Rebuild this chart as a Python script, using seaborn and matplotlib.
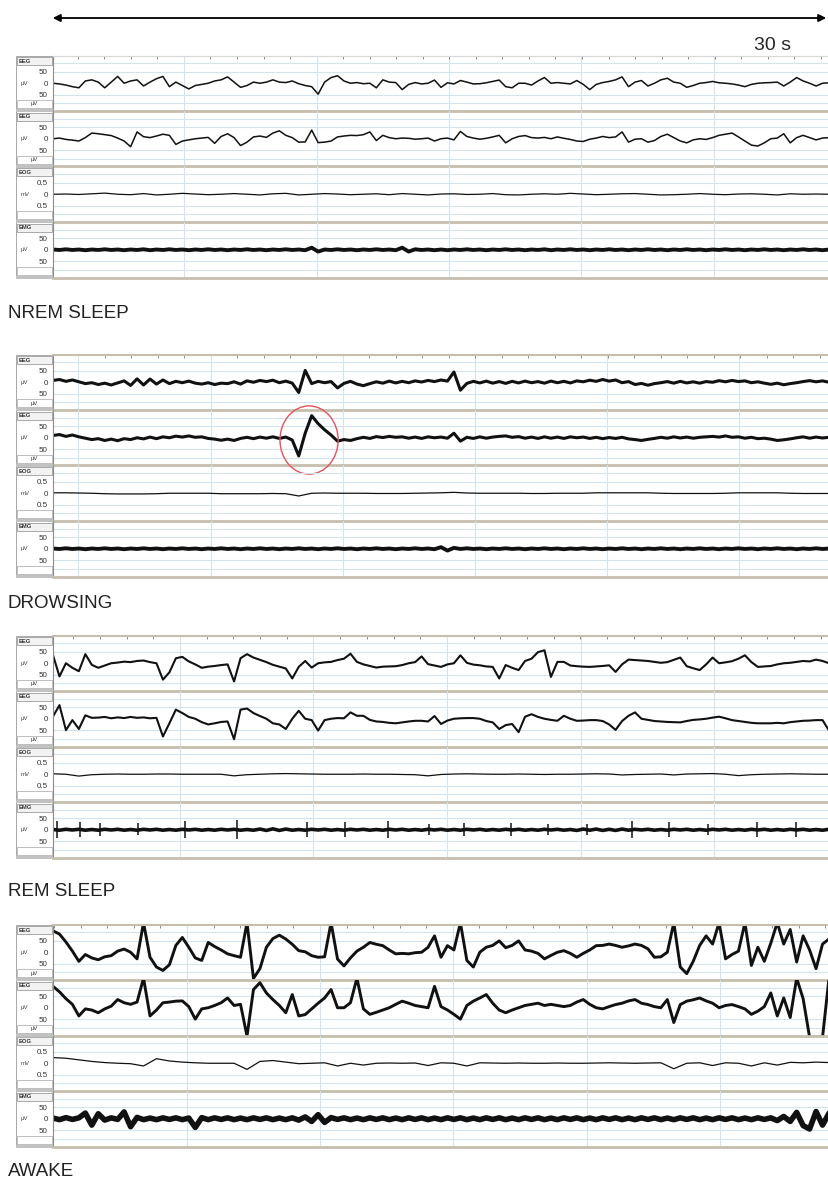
import numpy as np
import matplotlib
matplotlib.use("Agg")
import matplotlib.pyplot as plt
from matplotlib.patches import Rectangle, Ellipse, FancyArrowPatch
from matplotlib.ticker import FixedLocator
import seaborn as sns

sns.set_style("white")
plt.rcParams["font.family"] = ["Liberation Sans", "DejaVu Sans"]

# Traces, 30 s per panel
# EEG / EMG in uV, EOG in mV

nrem_eeg1 = [0, -3, -8, -15, -20, 10, 15, 5, -20, 5,
             30, 0, 10, 15, -12, 5, 20, 30, -15, 5,
             -10, -25, -10, -5, 0, 10, 15, 28, 5, -18,
             -10, 5, 0, 5, 15, 5, 3, 10, -2, -10,
             -15, -48, 5, 25, 33, 10, 0, 3, -2, 0,
             -20, 15, 5, 3, -28, -5, 3, -3, 0, 14,
             -18, 2, -3, 12, 5, -3, -2, 2, 8, 14,
             -15, -20, 0, 0, -8, 10, 25, 0, 3, 0,
             -3, 12, -5, -28, -5, 3, 8, 15, 28, -15,
             5, 12, -12, 0, 15, 22, 5, 0, -18, -10,
             0, 3, 8, 2, 0, -3, -8, -15, -5, 0,
             2, 3, 5, -12, 5, 25, 10, 0, -12, 0,
             2]
nrem_eeg2 = [0, 3, -3, -6, -10, 5, 25, 22, 18, 14,
             3, -10, -35, 30, 9, 5, 12, 20, 15, -25,
             -10, -5, 0, 3, 6, -20, 10, 22, 5, -30,
             -15, 8, 12, 6, 25, 35, 15, 5, -15, -14,
             38, -17, -15, -10, 8, 12, 15, 14, 18, 30,
             -8, 15, 5, 0, 3, 2, -2, 0, 3, -10,
             0, 3, -5, 32, 10, 3, -2, 2, 8, 15,
             -18, 0, 10, 14, 5, 3, 6, 0, 8, 2,
             -3, -10, -12, -2, 3, 10, 5, 8, 30, -15,
             -2, 0, -15, -8, 10, 20, 5, -10, -18, -5,
             0, -3, 5, 15, 20, 25, 8, -10, -28, -32,
             -18, 0, 3, 22, -18, 5, 15, 5, -5, 3,
             5]
nrem_eog = [0.0, 0.01, -0.01, 0.02, 0.05, 0.0, -0.02, 0.03, -0.03, 0.0,
            0.04, 0.01, -0.02, 0.0, 0.03, 0.0, -0.03, 0.02, 0.04, -0.03,
            0.0, 0.03, 0.01, -0.02, 0.0, 0.02, -0.02, 0.03, 0.0, -0.03,
            0.01, 0.02, -0.01, 0.0, 0.03, -0.02, -0.03, 0.0, 0.02, 0.0,
            0.04, 0.01, -0.02, 0.0, 0.02, 0.03, 0.0, -0.03, -0.02, 0.0,
            0.03, 0.0, -0.02, 0.01, 0.02, 0.0, -0.03, 0.02, 0.0, 0.01,
            0.0]
nrem_emg = [1, -1, 2, -1, 1, -2, 1, -1, 2, -1,
            1, -2, 1, -1, 2, -2, 1, -1, 2, -1,
            1, -2, 1, -1, 2, -1, 1, -2, 1, -1,
            2, -1, 1, -2, 1, -1, 2, -1, 1, -2,
            9, -8, 1, -1, 2, -1, 1, -2, 1, -1,
            2, -1, 1, -2, 9, -8, 2, -1, 1, -2,
            1, -2, 1, -1, 2, -1, 1, -2, 1, -1,
            2, -1, 1, -2, 1, -1, 2, -2, 1, -1,
            2, -1, 1, -2, 1, -1, 2, -1, 1, -2,
            1, -1, 2, -1, 1, -2, 1, -1, 2, -1,
            1, -2, 1, -1, 2, -1, 1, -2, 1, -1,
            2, -1, 1, -2, 1, -1, 2, -1, 1, -2,
            1]

drow_eeg1 = [8, 12, 4, 10, 2, -6, -2, -10, -4, -12,
             -3, 6, -14, 15, -12, 14, -8, 10, -6, 4,
             -2, 5, -4, -8, -2, -10, -4, -6, 2, -8,
             6, 0, 8, 3, 9, -2, 5, -4, -45, 52,
             -6, 4, -2, 3, -25, -5, 4, -8, -15, -6,
             2, -4, 5, -3, 4, -2, 6, 1, 8, 3,
             10, 5, 45, -35, -5, 4, -3, 5, -4, 3,
             -5, 4, -3, 5, -2, 3, -4, 5, -2, 4,
             -3, 6, 2, 9, 4, 12, 5, 10, -2, 3,
             -10, -5, -13, -6, -2, 3, -4, 4, -3, 2,
             -4, 3, 0, 7, 2, 8, 3, 6, -2, 2,
             -4, -9, -4, -11, -6, -2, 3, 7, 2, 6,
             0]
drow_eeg2 = [10, 14, 6, 12, 4, -2, -8, -4, -12, -6,
             -13, -4, -8, 0, -5, 3, -4, 4, 0, 7,
             3, 8, 2, 4, -3, -6, -11, -6, -12, -3,
             2, -4, 3, -2, 4, -3, 3, -10, -80, 20,
             97, 62, 35, 12, -15, -8, -12, -4, 2, -3,
             5, 1, 6, 2, 4, -2, 3, -3, 4, 0,
             3, -2, 20, -15, 2, -3, 4, -2, 3, 6,
             8, 2, 5, -2, 3, -3, 4, -2, 3, -3,
             4, 0, 3, -3, 2, -4, 1, -3, 2, -5,
             -8, -12, -7, -3, 2, -2, 4, -1, 3, -2,
             2, 4, 6, 3, 8, 2, 4, -2, 2, -4,
             -2, -6, -12, -9, -5, 0, 4, -2, 3, -1,
             2]
drow_eog = [0.02, 0.02, 0.01, 0.0, -0.02, -0.03, -0.03, -0.03, -0.02, 0.0,
            0.0, 0.0, 0.0, -0.02, -0.02, -0.02, -0.02, -0.01, -0.02, -0.12,
            0.0, 0.01, 0.0, 0.0, 0.0, -0.01, -0.01, -0.01, 0.0, 0.01,
            0.02, 0.04, 0.01, 0.0, 0.0, 0.0, 0.0, -0.01, -0.01, 0.0,
            0.0, 0.0, 0.02, 0.02, 0.02, 0.02, 0.02, 0.0, -0.01, -0.01,
            -0.01, -0.01, 0.0, 0.02, 0.02, 0.02, 0.02, 0.0, -0.01, -0.01,
            -0.01]
drow_emg = [1, -1, 2, -1, 1, -2, 1, -1, 2, -1,
            1, -2, 1, -1, 2, -1, 1, -2, 1, -1,
            2, -1, 1, -2, 1, -1, 2, -1, 1, -2,
            1, -1, 2, -1, 1, -2, 1, -1, 2, -1,
            1, -2, 1, -1, 2, -1, 1, -2, 1, -1,
            2, -1, 1, -2, 1, -1, 2, -1, 1, -2,
            7, -8, 4, -1, 2, -1, 1, -2, 1, -1,
            2, -1, 1, -2, 1, -1, 2, -1, 1, -2,
            1, -1, 2, -1, 1, -2, 1, -1, 2, -1,
            1, -2, 1, -1, 2, -1, 1, -2, 1, -1,
            2, -1, 1, -2, 1, -1, 2, -1, 1, -2,
            1, -1, 2, -1, 1, -2, 1, -1, 2, -1,
            1]

rem_eeg1 = [36, -58, 0, -20, -35, 40, -7, -20, -10, 0,
            3, 7, 5, 10, 12, 5, 0, -72, -40, 22,
            28, 8, -5, -20, -15, -12, -8, -5, -80, 22,
            40, 25, 15, 5, -7, -15, -23, -67, -16, 10,
            -19, 0, 4, 6, 14, 20, 42, 6, -5, -12,
            -19, -15, -14, -13, -8, 0, 5, 30, -4, -10,
            -16, -5, 0, 35, 2, -6, -9, -14, -16, -67,
            -8, -20, -30, 10, 20, 49, 57, -60, 6, 6,
            -10, -13, -15, -16, -14, -12, -9, -38, -5, 16,
            14, 12, 10, 6, 2, 5, 15, 25, -13, -22,
            -30, -5, 25, 0, 4, 9, 20, 35, 5, -16,
            -14, -12, -5, 0, 2, 6, 10, 8, 16, 10,
            0]
rem_eeg2 = [10, 60, -50, -6, -45, 15, 4, 5, 8, 2,
            6, 3, 8, 4, 6, 2, 4, -78, -20, 40,
            25, 8, 0, -15, -25, -20, -14, -12, -90, 40,
            45, 25, 12, 0, -20, -25, -45, 0, 35, 0,
            -6, -52, -6, 0, 3, 2, 28, 13, 13, -5,
            -12, -14, -18, -20, -16, -12, -9, -9, -12, 12,
            -23, -8, 0, 2, 3, 3, 0, -10, -16, -45,
            -28, -23, -59, 9, 20, 8, 0, -5, -9, 13,
            0, -9, -8, -6, -6, -10, -25, -49, -10, 13,
            28, 0, -5, -10, -12, -14, -15, -16, -10, -5,
            -3, 0, 5, 9, 2, -6, -10, -14, -18, -20,
            -20, -20, -18, -20, -15, -12, -9, -8, -6, -6,
            -52]
rem_eog = [0.02, 0.0, -0.08, -0.02, 0.0, 0.01, 0.0, 0.0, 0.01, 0.01,
           0.0, 0.0, 0.0, 0.0, -0.07, -0.02, 0.0, 0.02, 0.03, 0.02,
           0.01, 0.0, 0.0, 0.0, 0.01, 0.0, 0.0, -0.01, -0.02, -0.07,
           -0.01, 0.01, 0.02, 0.01, 0.0, 0.0, 0.01, 0.0, -0.01, 0.0,
           0.0, 0.01, 0.02, 0.01, -0.03, -0.01, 0.0, 0.01, -0.03, 0.01,
           0.02, 0.03, 0.0, -0.06, -0.02, 0.0, 0.01, 0.02, 0.01, 0.0,
           0.0]
rem_emg = [1, -2, 2, -1, 2, -2, 1, -2, 2, -1,
           2, -2, 1, -2, 2, -1, 2, -2, 1, -2,
           2, -1, 2, -2, 1, -2, 2, -1, 2, -2,
           1, -2, 3, -3, 4, -3, 3, -2, 1, -2,
           2, -1, 2, -2, 1, -2, 2, -1, 2, -2,
           1, -2, 2, -1, 2, -2, 1, -2, 2, -1,
           2, -2, 1, -2, 2, -1, 2, -2, 1, -2,
           2, -1, 2, -2, 1, -2, 2, -1, 2, -2,
           1, -3, 3, -2, 3, -3, 2, -3, 3, -2,
           2, -1, 2, -2, 1, -2, 2, -1, 2, -2,
           1, -2, 2, -1, 2, -2, 1, -2, 2, -1,
           2, -2, 1, -2, 2, -1, 2, -2, 1, -2,
           2]
# phasic twitches on the REM chin EMG
rem_twitch_t = [0.15, 1.04, 1.82, 3.29, 5.10, 7.11, 9.82, 11.29, 12.95, 14.53,
                15.89, 17.70, 19.13, 20.64, 22.38, 23.81, 25.32, 27.21, 28.72]
rem_twitch_hi = [40, 35, 30, 30, 40, 45, 35, 35, 40, 25,
                 30, 30, 25, 25, 40, 35, 25, 35, 35]
rem_twitch_lo = [-35, -30, -28, -25, -38, -42, -30, -32, -38, -22,
                 -28, -28, -22, -22, -38, -32, -22, -33, -32]

awake_eeg1 = [94, 80, 45, 5, -40, -10, -25, -33, -20, -15,
              5, 14, 0, -29, 130, -22, -65, -80, -55, 30,
              65, 22, -25, -36, 43, 25, 10, -7, -15, -22,
              130, -115, -72, 22, 60, 75, 58, 35, 7, 2,
              -15, -22, -20, 130, -30, -60, -25, 5, 22, 43,
              35, 29, 10, -7, -5, -7, -2, 0, 22, 72,
              -22, 29, 10, 130, -36, -65, 0, 22, 30, 50,
              20, 30, 50, 10, 5, -5, -29, -14, 0, 7,
              -5, -22, -5, 10, 29, 30, 36, 30, 22, 28,
              36, 30, 15, -22, -20, 0, 130, -65, -94, -40,
              30, 72, 36, 130, -29, -10, 5, 130, -58, 22,
              -40, 40, 130, 36, 100, -43, 72, 10, -72, 36,
              58]
awake_eeg2 = [94, 70, 40, 15, -36, -5, -10, -22, -5, 7,
              36, 22, 15, 25, 130, -36, -10, 22, 25, 29,
              30, 5, -50, -5, 0, 10, 22, 43, 10, 15,
              -125, 80, 110, 65, 36, 10, -22, 58, -36, -30,
              -5, 20, 43, 80, 0, 0, 22, 130, -5, -29,
              -20, -10, 0, 15, 29, 20, 10, 5, 0, 94,
              5, -10, -29, -50, 10, 29, 43, 58, 20, -10,
              -22, -10, 0, 10, 15, 20, 10, 15, 10, 5,
              10, 25, 36, 15, 0, -5, 5, 14, 20, 30,
              36, 20, 14, 5, 0, 36, -65, 14, 29, 35,
              43, 30, 20, 0, 10, 14, 5, -5, -29, -15,
              5, 65, -36, 43, -43, 130, 40, -130, -130, -130,
              130]
awake_eog = [0.25, 0.22, 0.15, 0.08, 0.03, 0.0, -0.02, -0.12, 0.2, 0.1,
             0.05, 0.02, 0.0, 0.0, 0.0, -0.27, 0.08, 0.12, 0.05, -0.02,
             0.0, 0.02, -0.12, 0.0, -0.08, 0.0, 0.01, 0.0, 0.01, -0.1,
             0.02, 0.0, -0.12, 0.02, 0.01, 0.0, 0.01, 0.0, 0.0, 0.01,
             0.0, 0.0, 0.01, 0.02, 0.01, 0.0, 0.01, 0.02, -0.24, 0.0,
             0.02, -0.1, 0.02, 0.0, -0.12, 0.02, -0.08, 0.04, 0.02, 0.05,
             0.03]
awake_emg = [3, -4, 5, -3, 4, 25, -28, 22, -6, 4,
             -3, 30, -35, 6, -4, 3, -4, 4, -3, 4,
             -4, 3, -38, 5, -4, 4, -3, 4, -4, 3,
             -4, 4, -3, 4, -4, 3, -4, 4, -6, 8,
             -12, 18, -16, 5, -3, 4, -4, 3, -4, 4,
             -3, 4, -4, 3, -4, 4, -3, 4, -4, 3,
             -4, 4, -3, 4, -4, 3, -4, 4, -3, 4,
             -4, 3, -4, 4, -3, 4, -4, 3, -4, 4,
             -3, 4, -4, 3, -4, 4, -3, 4, -4, 3,
             -4, 4, -3, 4, -4, 3, -4, 4, -3, 4,
             -4, 3, -4, 4, -3, 4, -4, 3, -4, 4,
             -3, 4, -8, 10, -12, 28, -30, -45, 32, -28,
             24]

stage_labels = ["NREM SLEEP", "DROWSING", "REM SLEEP", "AWAKE"]
channel_names = ["EEG", "EEG", "EOG", "EMG"]
channel_units = ["\u03bcV", "\u03bcV", "mV", "\u03bcV"]
traces = [[nrem_eeg1, nrem_eeg2, nrem_eog, nrem_emg],
          [drow_eeg1, drow_eeg2, drow_eog, drow_emg],
          [rem_eeg1, rem_eeg2, rem_eog, rem_emg],
          [awake_eeg1, awake_eeg2, awake_eog, awake_emg]]
# 5 s grid lines of each page (seconds)
grid_sec = [[5.06, 10.19, 15.31, 20.43, 25.54],
            [0.97, 6.09, 11.21, 16.31, 21.42, 26.52],
            [4.91, 10.07, 15.23, 20.41, 25.57],
            [5.18, 10.32, 15.46, 20.64, 25.79]]

# ---- layout (pixels) ----
W, H = 829, 1182
x0 = 53
row_h = 55.5
panel_tops = [55.5, 354.5, 635.5, 924.5]
label_y = [314, 604, 891, 1172]
line_w = [[1.1, 1.1, 0.9, 2.8],
          [2.2, 2.2, 0.9, 2.8],
          [1.5, 1.5, 0.9, 2.6],
          [2.1, 2.1, 0.9, 4.0]]
grid_blue = "#d3e3f0"
tan = "#c6bfae"

fig = plt.figure(figsize=(W / 100, H / 100), dpi=100)

ov = fig.add_axes([0, 0, 1, 1], zorder=0)
ov.set_xlim(0, W)
ov.set_ylim(H, 0)
ov.axis("off")

# 30 s scale arrow
ov.add_patch(FancyArrowPatch((50, 18), (829, 18), arrowstyle="<|-|>",
                             mutation_scale=11, lw=1.3, color="black"))
ov.text(773, 45, "30 s", fontsize=14, ha="center", va="center")

for p in range(4):
    P = panel_tops[p]
    ov.text(8, label_y[p], stage_labels[p], fontsize=13.5, ha="left",
            va="center", color="#222222")
    ov.add_patch(Rectangle((16.5, P), 36.5, 4 * row_h, fc="white",
                           ec="#a8a8a8", lw=0.7))
    for c in range(4):
        T = P + c * row_h
        eog = channel_names[c] == "EOG"
        scale = 0.01 if eog else 1.0

        # label column
        ov.add_patch(Rectangle((17, T + 1.5), 35.5, 8, fc="#f2f2f2",
                               ec="#9c9c9c", lw=0.6))
        ov.text(18.5, T + 5.6, channel_names[c], fontsize=4.2,
                fontweight="bold", va="center", color="#333333")
        ov.add_patch(Rectangle((17, T + 44.5), 35.5, 8, fc="white",
                               ec="#b4b4b4", lw=0.6))
        if c < 2:
            ov.text(34.5, T + 48.5, channel_units[c], fontsize=4.2,
                    ha="center", va="center", color="#333333")
        ov.add_patch(Rectangle((16.5, T + row_h - 2), 36.5, 3,
                               fc="#c2c2c2", ec="none"))
        ov.text(20.5, T + row_h / 2, channel_units[c], fontsize=4.3,
                va="center", color="#444444")

        # trace axes
        ax = fig.add_axes([x0 / W, 1 - (T + row_h) / H, (W - x0) / W,
                           row_h / H], zorder=1)
        ax.set_facecolor("none")
        vals = np.array(traces[p][c], dtype=float)
        t = np.linspace(0, 30, len(vals))
        sns.lineplot(x=t, y=vals, ax=ax, color="#111111",
                     linewidth=line_w[p][c], estimator=None, sort=False,
                     legend=False)
        if p == 2 and c == 3:
            ax.vlines(rem_twitch_t, rem_twitch_lo, rem_twitch_hi,
                      color="#111111", lw=1.1)
        lim = 122 * scale
        ax.set_xlim(0, 30)
        ax.set_ylim(-lim, lim)
        ax.set_xlabel("")
        ax.set_ylabel("")

        for v in (87, 50, -50, -87):
            ax.axhline(v * scale, color=grid_blue, lw=0.8, zorder=0)
        ax.set_xticks(grid_sec[p])
        ax.grid(axis="x", which="major", color=grid_blue, lw=0.8)
        ax.tick_params(axis="x", which="major", length=0,
                       labelbottom=False)

        tv = 50 * scale
        ax.set_yticks([-tv, 0, tv])
        ax.set_yticklabels(["0.5", "0", "0.5"] if eog else ["50", "0", "50"])
        ax.yaxis.set_minor_locator(FixedLocator(
            [k * 10 * scale for k in range(-5, 6)]))
        ax.tick_params(axis="y", which="major", direction="out", length=2.6,
                       width=0.6, pad=1, labelsize=5.8, color="#666666",
                       labelcolor="#333333")
        ax.tick_params(axis="y", which="minor", direction="out", length=1.3,
                       width=0.4, color="#888888")

        ax.spines["right"].set_visible(False)
        ax.spines["left"].set_color("#8c8c8c")
        ax.spines["left"].set_linewidth(0.8)
        ax.spines["bottom"].set_color(tan)
        ax.spines["bottom"].set_linewidth(2.0)
        if c == 0:
            ax.spines["top"].set_color(tan if p > 0 else "#d8d8d8")
            ax.spines["top"].set_linewidth(1.5 if p > 0 else 0.8)
            g = grid_sec[p]
            s = (g[1] - g[0]) / 5
            minors = [g[0] + k * s for k in range(-5, 30)
                      if 0 < g[0] + k * s < 30]
            ax.xaxis.set_minor_locator(FixedLocator(minors))
            ax.tick_params(axis="x", which="minor", top=True, bottom=False,
                           direction="in", length=2.2, width=0.6,
                           color="#777777")
        else:
            ax.spines["top"].set_visible(False)

        # K-complex marked on the drowsing page
        if p == 1 and c == 1:
            ax.add_patch(Ellipse((9.9, -10), width=2.25, height=300,
                                 fill=False, ec="#e5525a", lw=1.0,
                                 clip_on=False, zorder=5))

fig.savefig("out.png", dpi=100)
